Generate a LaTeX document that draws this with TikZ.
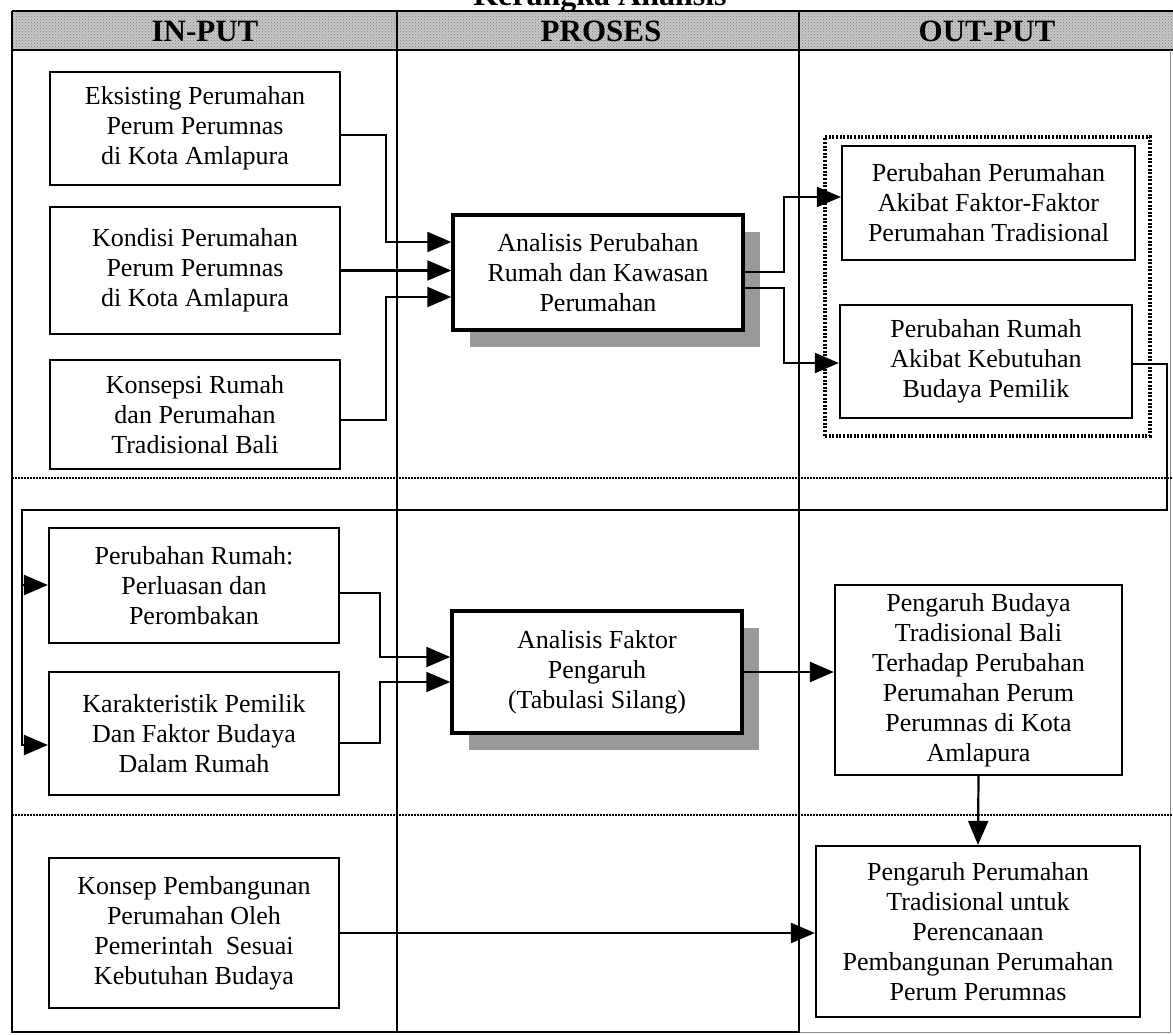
\documentclass[tikz,border=0pt]{standalone}
\usepackage{fontspec}
\setmainfont{Liberation Serif}
\usetikzlibrary{arrows.meta,patterns,shadows}
\begin{document}
\begin{tikzpicture}[x=1pt,y=-1pt,
  box/.style={draw, line width=2.2pt, fill=white, inner sep=0pt, align=center, font=\fontsize{26}{30}\selectfont},
  abox/.style={box, line width=3.4pt, drop shadow={shadow xshift=17pt, shadow yshift=-17pt, fill=black!40, opacity=1}},
  conn/.style={line width=2.2pt},
  arr/.style={conn, -{Triangle[length=24pt,width=20pt]}},
  sep/.style={line width=1.5pt, dash pattern=on 1.5pt off 1.5pt},
  col/.style={line width=1.3pt},
  hdr/.style={font=\fontsize{31}{34}\selectfont\bfseries, anchor=base},
  grpbox/.style={draw, line width=3.2pt, dash pattern=on 2pt off 1.6pt, inner sep=0pt}
]
\useasboundingbox (0,0) rectangle (1173,1035);

% header band
\fill[black!22] (12,11) rectangle (1173,50);
\fill[pattern=crosshatch dots, pattern color=black!50] (12,11) rectangle (1173,50);
\draw[line width=1.2pt] (12,11) -- (1173,11);
\draw[line width=2.4pt] (12,50) -- (1173,50);

% frame and columns
\draw[col] (12,11) -- (12,1032) -- (800,1032);
\draw[line width=0.8pt, black!45] (800,1032) -- (1170,1032) -- (1170,50);
\draw[col] (397,11) -- (397,1032);
\draw[col] (799,11) -- (799,1032);

% row separators
\draw[sep] (12,478) -- (1173,478);
\draw[sep] (12,815) -- (1173,815);

% title and headers
\node[font=\fontsize{32}{34}\selectfont\bfseries, anchor=base] (title) at (600,6) {Kerangka Analisis};
\node[hdr] (hin) at (205,42) {IN-PUT};
\node[hdr] (hpr) at (601,42) {PROSES};
\node[hdr] (hout) at (987,42) {OUT-PUT};

% input column
\node[box, minimum width=290pt, minimum height=113pt] (b1) at (195,128.5) {Eksisting Perumahan\\Perum Perumnas\\di Kota Amlapura};
\node[box, minimum width=290pt, minimum height=127pt] (b2) at (195,270.5) {Kondisi Perumahan\\Perum Perumnas\\di Kota Amlapura};
\node[box, minimum width=290pt, minimum height=109pt] (b3) at (195,414.5) {Konsepsi Rumah\\dan Perumahan\\Tradisional Bali};
\node[box, minimum width=290pt, minimum height=115pt] (b4) at (194,585.5) {Perubahan Rumah:\\Perluasan dan\\Perombakan};
\node[box, minimum width=290pt, minimum height=123pt] (b5) at (194,733.5) {Karakteristik Pemilik\\Dan Faktor Budaya\\Dalam Rumah};
\node[box, minimum width=290pt, minimum height=150pt] (b10) at (194,933) {Konsep Pembangunan\\Perumahan Oleh\\Pemerintah\ \ Sesuai\\Kebutuhan Budaya};

% process column
\node[abox, minimum width=290pt, minimum height=115pt] (a1) at (598,272.5) {Analisis Perubahan\\Rumah dan Kawasan\\Perumahan};
\node[abox, minimum width=290pt, minimum height=122pt] (a2) at (597,672) {Analisis Faktor\\Pengaruh\\(Tabulasi Silang)};

% output column
\node[grpbox, minimum width=325pt, minimum height=299pt] (grp) at (987.5,286.5) {};
\node[box, minimum width=293pt, minimum height=114pt] (b8) at (988.5,203) {Perubahan Perumahan\\Akibat Faktor-Faktor\\Perumahan Tradisional};
\node[box, minimum width=292pt, minimum height=113pt] (b9) at (986,361.5) {Perubahan Rumah\\Akibat Kebutuhan\\Budaya Pemilik};
\node[box, minimum width=287pt, minimum height=190pt] (b6) at (978.5,680) {Pengaruh Budaya\\Tradisional Bali\\Terhadap Perubahan\\Perumahan Perum\\Perumnas di Kota\\Amlapura};
\node[box, minimum width=324pt, minimum height=171pt] (b7) at (978,931.5) {Pengaruh Perumahan\\Tradisional untuk\\Perencanaan\\Pembangunan Perumahan\\Perum Perumnas};

% waypoints
\coordinate (p1a) at (386,135);
\coordinate (p1b) at (386,242);
\coordinate (p3a) at (386,420);
\coordinate (p3b) at (386,297);
\coordinate (q1a) at (784,272);
\coordinate (q1b) at (784,197);
\coordinate (q2a) at (784,288);
\coordinate (q2b) at (784,363);
\coordinate (r1) at (1167,364);
\coordinate (r2) at (1167,510);
\coordinate (r3) at (22,510);
\coordinate (r4) at (22,585);
\coordinate (r5) at (22,745);
\coordinate (s1) at (380,593);
\coordinate (s2) at (380,657);
\coordinate (s3) at (380,743);
\coordinate (s4) at (380,682);

% connectors
\draw[arr] (b1.east |- p1a) -- (p1a) -- (p1b) -- (a1.west |- p1b);
\draw[arr] (b2.east) -- (a1.west |- b2.east);
\draw[arr] (b3.east |- p3a) -- (p3a) -- (p3b) -- (a1.west |- p3b);
\draw[arr] (a1.east |- q1a) -- (q1a) -- (q1b) -- (b8.west |- q1b);
\draw[arr] (a1.east |- q2a) -- (q2a) -- (q2b) -- (b9.west |- q2b);
\draw[arr] (b9.east |- r1) -- (r1) -- (r2) -- (r3) -- (r5) -- (b5.west |- r5);
\draw[arr] (r4) -- (b4.west |- r4);
\draw[arr] (b4.east |- s1) -- (s1) -- (s2) -- (a2.west |- s2);
\draw[arr] (b5.east |- s3) -- (s3) -- (s4) -- (a2.west |- s4);
\draw[arr] (a2.east) -- (b6.west |- a2.east);
\draw[arr] (b6.south) -- (b7.north);
\draw[arr] (b10.east) -- (b7.west |- b10.east);
\end{tikzpicture}
\end{document}
